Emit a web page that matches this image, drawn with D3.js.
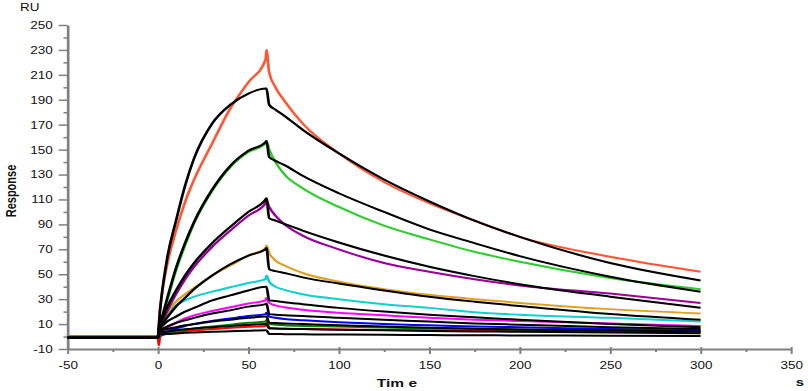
<!DOCTYPE html>
<html>
<head>
<meta charset="utf-8">
<script src="https://cdn.jsdelivr.net/npm/d3@7"></script>
<style>
  body { margin: 0; background: #fff; }
  text { font-family: "Liberation Sans", Arial, sans-serif; }
</style>
</head>
<body>
<div id="chart"></div>
<script>
// time points (s) shared by every curve
const time = [-50, 0, 0.5, 1, 2, 5, 10, 15, 20, 30, 40, 50, 59.5, 60, 61.5, 65, 70, 80, 100, 125, 150, 175, 200, 250, 300];

// measured responses (RU), coloured curves
const tomato  = [0, 0, 10, 20, 32, 57, 85, 108, 126, 155, 183, 204, 222, 230, 212, 200, 189, 171, 147, 124, 107, 93, 80, 64, 52];
const green   = [0, 0, 4, 7, 12, 28, 53, 73, 91, 117, 136, 148, 155, 157, 150, 140, 130, 119, 104, 89, 78, 68, 60, 47, 38];
const purple  = [0, 0, 3, 6, 10, 20, 34, 46, 56, 72, 85, 97, 107, 109, 104, 97, 90, 81, 70, 59, 52, 46, 41, 34.5, 27];
const orange  = [0, 0, 3, 6, 10, 19, 28, 34, 39, 49, 57, 65, 71, 73, 67, 61, 57, 51, 44, 38, 33.5, 30, 27, 22, 18.5];
const cyan    = [0, 0, 1, 3, 7, 17, 25, 29, 32, 36, 39.5, 43, 46, 49, 44, 40, 37.5, 34, 30, 26, 23, 19.5, 17.5, 15, 12];
const magenta = [0, 0, 0, 1, 3, 7, 11, 14.5, 17, 20.5, 23.5, 26.5, 29, 31, 27, 25, 23.5, 21.5, 19, 17, 15, 13.5, 12.5, 10.5, 8.5];
const blue    = [0, 0, 0, 1, 2, 4, 6.5, 8.5, 10, 12.5, 14.5, 16.5, 18, 19, 16, 15, 14, 13, 11.5, 10, 9, 8, 7.5, 6, 5];
const dkgreen = [0, 0, 0, 0.5, 1, 2.5, 4, 5.5, 6.5, 8, 9.5, 11, 12, 13, 10, 9.5, 9, 8.5, 8, 7.2, 6.5, 6, 5.5, 4.5, 4];
const red     = [0, 0, -7, -1, 1, 2.5, 3.5, 4.2, 5, 6, 7, 7.8, 8.5, 12, 7, 6.5, 6.3, 6, 5.7, 5.3, 5, 4.8, 4.6, 4.3, 4];

// fitted curves (black)
const fit1 = [-1, -1, 8, 18, 32, 62, 93, 121, 143, 171, 186, 195, 199, 199, 186, 182, 177, 166, 147, 126, 108.5, 93, 80, 59, 45];
const fit2 = [-1, -1, 6, 9, 14, 30, 55, 75, 92, 118, 137, 149, 156, 157, 144, 141, 137.5, 129, 115, 100, 86, 75, 64.5, 48, 36];
const fit3 = [-1, -1, 6, 8, 12, 23, 37, 49, 59, 75, 88, 100, 110, 111, 95, 93, 90.3, 85, 75.5, 65, 56, 48.5, 42, 32, 23];
const fit4 = [-1, -1, 6, 7, 9, 15, 24, 31, 38, 49, 58, 65, 70, 71, 54, 52.5, 51, 47.5, 42.5, 37, 32, 28, 24.5, 18, 13.4];
const fit5 = [-1, -1, 6, 7, 8, 12, 16, 20, 23, 29, 33, 37, 40, 40, 29, 28.5, 27.5, 26, 23, 20, 17.5, 15.5, 13.5, 10, 7.5];
const fit6 = [-1, -1, 5, 5.5, 6, 8, 11, 13, 15, 18.5, 21, 24, 26, 26.5, 18, 17.5, 17, 16.5, 15, 13.5, 12, 10.5, 9.5, 7.5, 6];
const fit7 = [-1, -1, 4, 4.5, 5, 6, 7.5, 9, 10, 12, 13.5, 15, 16, 16, 11, 10.8, 10.5, 10, 9, 8, 7, 6.3, 5.7, 4.8, 4];
const fit8 = [-1, -1, 3, 3.2, 3.5, 4, 5, 5.8, 6.5, 7.5, 8.5, 9.3, 10, 10, 6.5, 6.4, 6.2, 6, 5.5, 5, 4.5, 4.1, 3.8, 3.2, 2.7];
const fit9 = [-1, -1, 1.5, 1.6, 1.8, 2, 2.5, 3, 3.3, 3.8, 4.2, 4.6, 5, 5, 2, 2, 1.9, 1.8, 1.6, 1.4, 1.2, 1, 0.9, 0.7, 0.5];

const yMajor = d3.range(-10, 251, 20);
const yMinor = d3.range(0, 241, 20);
const xMajor = d3.range(-50, 351, 50);
const xMinor = d3.range(-25, 326, 50);

const measured = [
  { values: red, color: '#ff0000' },
  { values: dkgreen, color: '#008000' },
  { values: blue, color: '#0000ff' },
  { values: magenta, color: '#ff00ff' },
  { values: cyan, color: '#11d0d0' },
  { values: orange, color: '#e0a020' },
  { values: purple, color: '#990099' },
  { values: green, color: '#2ecc2e' },
  { values: tomato, color: '#ff5533' }
];
const fits = [fit1, fit2, fit3, fit4, fit5, fit6, fit7, fit8, fit9];

// the original picture is stretched sideways, so draw in a narrower box and stretch it
const sx = 1.35;
const width = 808;
const height = 391;
const vw = width / sx;

const svg = d3.select('#chart')
  .append('svg')
  .attr('width', width)
  .attr('height', height)
  .attr('viewBox', [0, 0, vw, height])
  .attr('preserveAspectRatio', 'none');

const x = d3.scaleLinear()
  .domain([-50, 350])
  .range([67.5 / sx, 791 / sx]);

const y = d3.scaleLinear()
  .domain([-10, 250])
  .range([349, 25]);

const axisColor = '#808080';

function styleAxis(g) {
  g.select('.domain').attr('stroke', axisColor).attr('stroke-width', 2);
  g.selectAll('.tick line').attr('stroke', axisColor).attr('stroke-width', 1.5);
  g.selectAll('.tick text').attr('fill', '#111').attr('font-size', '10px');
}

// y axis
svg.append('g')
  .attr('transform', `translate(${x(-50)}, 0)`)
  .call(d3.axisLeft(y).tickValues(yMinor).tickSize(3).tickSizeOuter(0).tickFormat(''))
  .call(g => g.select('.domain').remove())
  .call(styleAxis);

svg.append('g')
  .attr('transform', `translate(${x(-50)}, 0)`)
  .call(d3.axisLeft(y).tickValues(yMajor).tickSize(6.5).tickSizeOuter(0).tickPadding(4.4).tickFormat(d => String(d)))
  .call(styleAxis)
  .call(g => g.selectAll('.tick text').attr('dy', '0.34em'));

// x axis
svg.append('g')
  .attr('transform', `translate(0, ${y(-10)})`)
  .call(d3.axisBottom(x).tickValues(xMinor).tickSize(3).tickSizeOuter(0).tickFormat(''))
  .call(g => g.select('.domain').remove())
  .call(styleAxis);

svg.append('g')
  .attr('transform', `translate(0, ${y(-10)})`)
  .call(d3.axisBottom(x).tickValues(xMajor).tickSize(5).tickSizeOuter(0).tickFormat(d => String(d)))
  .call(styleAxis)
  .call(g => g.selectAll('.tick line').attr('y1', -2))
  .call(g => g.selectAll('.tick text').attr('y', 20).attr('dy', 0));

const line = d3.line()
  .x((d, i) => x(time[i]))
  .y(d => y(d))
  .curve(d3.curveMonotoneX);

svg.append('g')
  .attr('fill', 'none')
  .attr('stroke-width', 2)
  .attr('stroke-linejoin', 'round')
  .selectAll('path')
  .data(measured)
  .join('path')
    .attr('stroke', d => d.color)
    .attr('d', d => line(d.values));

svg.append('g')
  .attr('fill', 'none')
  .attr('stroke', '#000')
  .attr('stroke-width', 2)
  .attr('stroke-linejoin', 'round')
  .selectAll('path')
  .data(fits)
  .join('path')
    .attr('d', d => line(d));

// labels
svg.append('text')
  .attr('x', 20 / sx)
  .attr('y', 11)
  .attr('font-size', '10px')
  .attr('fill', '#111')
  .text('RU');

svg.append('text')
  .attr('transform', `translate(${15.5 / sx}, 191) rotate(-90)`)
  .attr('text-anchor', 'middle')
  .attr('font-size', '11px')
  .attr('font-weight', 'bold')
  .attr('fill', '#111')
  .text('Response');

svg.append('text')
  .attr('x', 397 / sx)
  .attr('y', 387)
  .attr('text-anchor', 'middle')
  .attr('font-size', '11.5px')
  .attr('font-weight', 'bold')
  .attr('fill', '#111')
  .text('Tim e');

svg.append('text')
  .attr('x', 800 / sx)
  .attr('y', 386)
  .attr('text-anchor', 'middle')
  .attr('font-size', '11px')
  .attr('font-weight', 'bold')
  .attr('fill', '#111')
  .text('s');
</script>
</body>
</html>
